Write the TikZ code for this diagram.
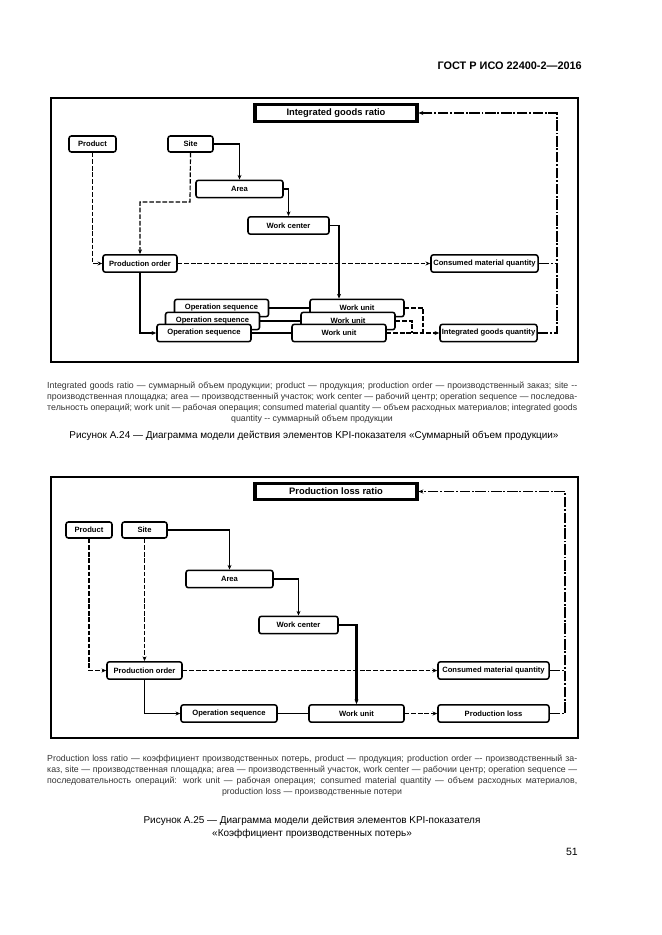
\documentclass[tikz,border=0pt]{standalone}
\usepackage{fontspec}
\setmainfont{Liberation Sans}
\usetikzlibrary{arrows.meta}
\newcommand{\legendline}[1]{\makebox[15.9cm][s]{#1}}

\begin{document}
\begin{tikzpicture}[x=0.03cm,y=-0.03cm,
  >={Stealth[length=4pt,width=3.4pt]},
  box/.style={draw,rounded corners=2pt,line width=1.3pt,fill=white,inner sep=0pt,
    minimum height=0.52cm,font=\fontsize{6.5}{7}\selectfont\bfseries},
  goal/.style={draw,line width=2.6pt,fill=white,inner sep=0pt,minimum width=4.86cm,
    minimum height=0.5cm,font=\fontsize{8}{9}\selectfont\bfseries},
  link/.style={line width=1pt},
  dashln/.style={line width=1pt,dash pattern=on 4pt off 1.6pt},
  dashdotln/.style={line width=1pt,dash pattern=on 9pt off 1.5pt on 1.5pt off 1.5pt},
  frame/.style={line width=1.3pt},
  legend/.style={inner sep=0pt,text=black!80,font=\fontsize{7.5}{8}\selectfont},
  caption/.style={inner sep=0pt,font=\fontsize{8.5}{10}\selectfont}]
\useasboundingbox (0,0) rectangle (661,935);
\fill[white] (0,0) rectangle (661,935);

\node[anchor=east,inner sep=0pt,font=\fontsize{9.3}{11}\selectfont\bfseries] (header) at (582,66) {ГОСТ Р ИСО 22400-2—2016};

\draw[frame] (51,98) rectangle (578,362);
\node[goal] (ratioA) at (336,113) {Integrated goods ratio};
\node[box,minimum width=1.41cm,minimum height=0.48cm] (productA) at (92.5,144) {Product};
\node[box,minimum width=1.35cm,minimum height=0.48cm] (siteA) at (190.5,144) {Site};
\node[box,minimum width=2.61cm] (areaA) at (239.5,189) {Area};
\node[box,minimum width=2.43cm] (wcA) at (288.5,225.5) {Work center};
\node[box,minimum width=2.22cm] (poA) at (140,263.5) {Production order};
\node[box,minimum width=3.21cm] (cmqA) at (484.5,263.5) {Consumed material quantity};
\node[box,minimum width=2.82cm] (osA3) at (221.5,308) {Operation sequence};
\node[box,minimum width=2.82cm] (osA2) at (212.5,321) {Operation sequence};
\node[box,minimum width=2.82cm] (osA1) at (204,333) {Operation sequence};
\node[box,minimum width=2.82cm] (wuA3) at (357,308) {Work unit};
\node[box,minimum width=2.82cm] (wuA2) at (348,321) {Work unit};
\node[box,minimum width=2.82cm] (wuA1) at (339,333) {Work unit};
\node[box,minimum width=2.91cm] (igqA) at (488.5,333) {Integrated goods quantity};
\coordinate (bendA) at (190,202);
\coordinate (joinA3) at (423,333);
\coordinate (joinA2) at (412,333);
\coordinate (cornerA) at (557,113);

\draw[link,->] (siteA.east) -| (areaA.north);
\draw[link,->] (areaA.east) -| (wcA.north);
\draw[link,->] (wcA.east) -| (wuA3.north -| wuA1.north);
\draw[dashln,->] (productA.south) |- (poA.west);
\draw[dashln,->] (siteA.south) -- (bendA) -| (poA.north);
\draw[link,->] (poA.south) |- (osA1.west);
\draw[dashln,->] (poA.east) -- (cmqA.west);
\draw[link] (osA3.east) -- (wuA3.west);
\draw[link] (osA2.east) -- (wuA2.west);
\draw[link] (osA1.east) -- (wuA1.west);
\draw[dashln] (wuA3.east) -| (joinA3);
\draw[dashln] (wuA2.east) -| (joinA2);
\draw[dashln,->] (wuA1.east) -- (igqA.west);
\draw[dashdotln,->] (igqA.east) -| (cornerA) -- (ratioA.east);
\draw[dashdotln] (cmqA.east) -- (cmqA.east -| cornerA);

\node[legend,anchor=west] (legA1) at (47,386) {\legendline{Integrated goods ratio — суммарный объем продукции; product — продукция; production order — производственный заказ; site -{}-}};
\node[legend,anchor=west] (legA2) at (47,397) {\legendline{производственная площадка; area — производственный участок; work center — рабочий центр; operation sequence — последова-}};
\node[legend,anchor=west] (legA3) at (47,408) {\legendline{тельность операций; work unit — рабочая операция; consumed material quantity — объем расходных материалов; integrated goods}};
\node[legend] (legA4) at (312,419) {quantity -{}- суммарный объем продукции};
\node[caption] (capA) at (314,436) {Рисунок А.24 — Диаграмма модели действия элементов KPI-показателя «Суммарный объем продукции»};

\draw[frame] (51,477) rectangle (578,738);
\node[goal] (ratioB) at (336,491.5) {Production loss ratio};
\node[box,minimum width=1.38cm,minimum height=0.48cm] (productB) at (89,530) {Product};
\node[box,minimum width=1.35cm,minimum height=0.48cm] (siteB) at (144.5,530) {Site};
\node[box,minimum width=2.61cm] (areaB) at (229.5,579) {Area};
\node[box,minimum width=2.37cm] (wcB) at (298.5,625) {Work center};
\node[box,minimum width=2.25cm] (poB) at (144.5,670.5) {Production order};
\node[box,minimum width=2.88cm] (osB) at (229,713.5) {Operation sequence};
\node[box,minimum width=2.85cm] (wuB) at (356.5,713.5) {Work unit};
\node[box,minimum width=3.33cm] (cmqB) at (493.5,670.5) {Consumed material quantity};
\node[box,minimum width=3.33cm] (plB) at (493.5,713.5) {Production loss};
\coordinate (cornerB) at (565,491.5);

\draw[link,->] (siteB.east) -| (areaB.north);
\draw[link,->] (areaB.east) -| (wcB.north);
\draw[link,line width=1.8pt,->] (wcB.east) -| (wuB.north);
\draw[dashln,->] (productB.south) |- (poB.west);
\draw[dashln,->] (siteB.south) -- (poB.north);
\draw[link,->] (poB.south) |- (osB.west);
\draw[link] (osB.east) -- (wuB.west);
\draw[dashln,->] (wuB.east) -- (plB.west);
\draw[dashln,->] (poB.east) -- (cmqB.west);
\draw[dashdotln,->] (plB.east) -| (cornerB) -- (ratioB.east);
\draw[dashdotln] (cmqB.east) -- (cmqB.east -| cornerB);

\node[legend,anchor=west] (legB1) at (47,759) {\legendline{Production loss ratio — коэффициент производственных потерь, product — продукция; production order –- производственный за-}};
\node[legend,anchor=west] (legB2) at (47,770) {\legendline{каз, site — производственная площадка; area — производственный участок, work center — рабочии центр; operation sequence —}};
\node[legend,anchor=west] (legB3) at (47,781) {\legendline{последовательность операций: work unit — рабочая операция; consumed material quantity — объем расходных материалов,}};
\node[legend] (legB4) at (312,792) {production loss — производственные потери};
\node[caption] (capB1) at (312,821) {Рисунок А.25 — Диаграмма модели действия элементов KPI-показателя};
\node[caption] (capB2) at (312,834) {«Коэффициент производственных потерь»};

\node[anchor=east,inner sep=0pt,font=\fontsize{9}{11}\selectfont] (page) at (578,852) {51};
\end{tikzpicture}
\end{document}
